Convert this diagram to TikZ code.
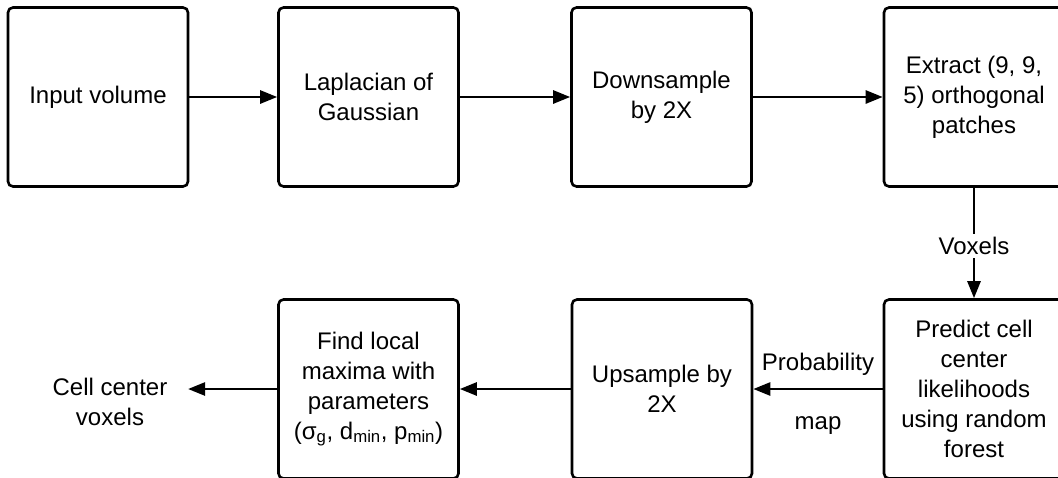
\documentclass[tikz,border=0pt]{standalone}
\usepackage{fontspec}
\setmainfont{Liberation Sans}
\usetikzlibrary{arrows.meta}
\begin{document}
\begin{tikzpicture}[x=1pt,y=-1pt,
  every node/.style={font=\fontsize{24}{30}\selectfont, align=center},
  stepbox/.style={draw, line width=2.6pt, rounded corners=5pt, minimum width=180pt, minimum height=179pt, inner sep=0pt},
  conn/.style={line width=2.6pt, -{Triangle[length=17pt,width=13pt]}},
  plain/.style={line width=2.6pt}]
\useasboundingbox (0,0) rectangle (1058,477);
\clip (0,0) rectangle (1058,477);
\node[stepbox] (b1) at (98,97) {Input volume};
\node[stepbox] (b2) at (368.5,97) {Laplacian of\\Gaussian};
\node[stepbox] (b3) at (661.5,97) {Downsample\\by 2X};
\node[stepbox] (b4) at (974,97) {Extract (9, 9,\\5) orthogonal\\patches};
\node[stepbox] (b5) at (368.5,389) {Find local\\maxima with\\parameters\\(σ\textsubscript{g}, d\textsubscript{min}, p\textsubscript{min})};
\node[stepbox] (b6) at (662,389) {Upsample by\\2X};
\node[stepbox] (b7) at (974,389) {Predict cell\\center\\likelihoods\\using random\\forest};
\node[inner xsep=20.5pt] (out) at (110,402) {Cell center\\voxels};
\draw[conn] (b1) -- (b2);
\draw[conn] (b2) -- (b3);
\draw[conn] (b3) -- (b4);
\draw[conn] (b4) -- node[fill=white, inner sep=3pt, yshift=-3pt] {Voxels} (b7);
\draw[conn] (b7) -- node[yshift=25pt] {Probability} node[yshift=-37pt] {map} (b6);
\draw[conn] (b6) -- (b5);
\draw[conn] (b5) -- (b5.west -| out.east);
\end{tikzpicture}
\end{document}
